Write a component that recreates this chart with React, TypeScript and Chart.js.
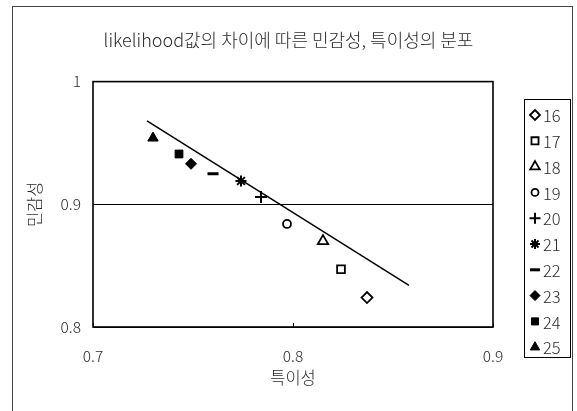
import React, { useEffect, useRef } from "react";
import { Chart, registerables } from "chart.js";
import { drawPoint } from "chart.js/helpers";
Chart.register(...registerables);

const seriesLabels = ["16", "17", "18", "19", "20", "21", "22", "23", "24", "25"];
const specificity = [0.837, 0.824, 0.815, 0.797, 0.784, 0.774, 0.760, 0.749, 0.743, 0.730];
const sensitivity = [0.824, 0.847, 0.870, 0.884, 0.906, 0.919, 0.925, 0.933, 0.941, 0.954];
const markerStyles = ["rectRot", "rect", "triangle", "circle", "cross", "star", "line", "rectRot", "rect", "triangle"];
const markerFilled = [false, false, false, false, false, false, false, true, true, true];
const trendX = [0.727, 0.858];
const trendY = [0.968, 0.834];
const xTicks = [0.7, 0.8, 0.9];
const yTicks = [0.8, 0.9, 1];

const TITLE = "likelihood값의 차이에 따른 민감성, 특이성의 분포";
const X_TITLE = "특이성";
const Y_TITLE = "민감성";
const FONT = '"Noto Sans CJK KR", "Noto Sans", sans-serif';
const TEXT = "#2a2a2a";

function markerRadius(style: string) {
  if (style === "circle") return 4;
  if (style === "cross") return 6;
  if (style === "line") return 5.5;
  if (style === "triangle") return 6;
  if (style === "star") return 5.5;
  return 5.5;
}
function markerBorder(style: string, filled: boolean) {
  if (style === "line") return 3;
  if (style === "star" || style === "cross") return 2;
  if (filled) return 1;
  return 1.8;
}

function drawMarker(ctx: CanvasRenderingContext2D, style: string, r: number, x: number, y: number, bw: number) {
  drawPoint(ctx, { pointStyle: style as any, radius: r, rotation: 0, borderWidth: bw } as any, x, y);
}

const framePlugin = {
  id: "frame",
  beforeDraw(chart: any) {
    const ctx = chart.ctx;
    ctx.save();
    ctx.fillStyle = "#ffffff";
    ctx.fillRect(0, 0, chart.width, chart.height);
    ctx.strokeStyle = "#444";
    ctx.lineWidth = 1;
    ctx.strokeRect(12.5, 6.5, 560, 430);
    ctx.restore();
  },
  beforeDatasetsDraw(chart: any) {
    const { ctx, chartArea } = chart;
    ctx.save();
    ctx.strokeStyle = "#000";
    ctx.lineWidth = 1.6;
    ctx.strokeRect(chartArea.left, chartArea.top, chartArea.right - chartArea.left, chartArea.bottom - chartArea.top);
    const xs = chart.scales.x;
    ctx.lineWidth = 1;
    xTicks.forEach((v) => {
      const px = Math.round(xs.getPixelForValue(v)) + 0.5;
      ctx.beginPath();
      ctx.moveTo(px, chartArea.bottom);
      ctx.lineTo(px, chartArea.bottom - 4);
      ctx.stroke();
    });
    ctx.restore();
  },
  afterDraw(chart: any) {
    const ctx = chart.ctx;
    ctx.save();
    const bx = 524.5, by = 99.5, bw = 46, bh = 258;
    ctx.strokeStyle = "#000";
    ctx.lineWidth = 1;
    ctx.strokeRect(bx, by, bw, bh);
    ctx.font = "300 16.5px " + FONT;
    ctx.textBaseline = "middle";
    ctx.textAlign = "left";
    seriesLabels.forEach((lab, i) => {
      const y = 115 + i * 25.8;
      const style = markerStyles[i];
      const filled = markerFilled[i];
      ctx.save();
      ctx.strokeStyle = "#000";
      ctx.fillStyle = filled ? "#000" : "#fff";
      const w = markerBorder(style, filled);
      ctx.lineWidth = w;
      drawMarker(ctx, style, markerRadius(style) - 0.5, 535, y, w);
      ctx.restore();
      ctx.fillStyle = TEXT;
      ctx.fillText(lab, 543, y + 1);
    });
    ctx.restore();
  },
};

export default function App() {
  const ref = useRef<HTMLCanvasElement>(null);
  useEffect(() => {
    if (!ref.current) return;
    const datasets: any[] = seriesLabels.map((lab, i) => ({
      type: "scatter",
      label: lab,
      data: [{ x: specificity[i], y: sensitivity[i] }],
      pointStyle: markerStyles[i],
      pointRadius: markerRadius(markerStyles[i]),
      pointBorderWidth: markerBorder(markerStyles[i], markerFilled[i]),
      borderColor: "#000",
      backgroundColor: markerFilled[i] ? "#000" : "#fff",
      showLine: false,
    }));
    datasets.push({
      type: "line",
      label: "trend",
      data: trendX.map((x, i) => ({ x, y: trendY[i] })),
      borderColor: "#000",
      borderWidth: 1.5,
      pointRadius: 0,
      fill: false,
      tension: 0,
    });
    const chart = new Chart(ref.current, {
      type: "scatter",
      data: { datasets },
      options: {
        animation: false,
        responsive: false,
        events: [],
        layout: { padding: { left: 0, right: 0, top: 0, bottom: 0 } },
        plugins: {
          legend: { display: false },
          tooltip: { enabled: false },
          title: {
            display: true,
            text: TITLE,
            color: TEXT,
            font: { size: 18, family: FONT, weight: "300" },
            padding: { top: 29, bottom: 31 },
          },
        },
        scales: {
          x: {
            type: "linear",
            min: 0.7,
            max: 0.9,
            afterBuildTicks: (s: any) => {
              s.ticks = xTicks.map((v) => ({ value: v }));
            },
            afterFit: (s: any) => {
              s.height = 84;
            },
            grid: { display: false, drawTicks: false },
            border: { display: false },
            ticks: {
              color: TEXT,
              font: { size: 15.5, family: FONT, weight: "300" },
              padding: 20,
              maxRotation: 0,
              callback: (v: any) => String(Math.round(Number(v) * 10) / 10),
            },
            title: {
              display: true,
              text: X_TITLE,
              color: TEXT,
              font: { size: 16.5, family: FONT, weight: "300" },
              padding: { top: 3, bottom: 23 },
            },
          },
          y: {
            type: "linear",
            min: 0.8,
            max: 1,
            afterBuildTicks: (s: any) => {
              s.ticks = yTicks.map((v) => ({ value: v }));
            },
            afterFit: (s: any) => {
              s.width = 93;
            },
            grid: { display: true, color: "#000", lineWidth: 1, drawTicks: false },
            border: { display: false },
            ticks: {
              color: TEXT,
              font: { size: 15.5, family: FONT, weight: "300" },
              padding: 12,
              callback: (v: any) => String(Math.round(Number(v) * 10) / 10),
            },
            title: {
              display: true,
              text: Y_TITLE,
              color: TEXT,
              font: { size: 16.5, family: FONT, weight: "300" },
              padding: { top: 25, bottom: 10 },
            },
          },
          yRightSpace: {
            type: "linear",
            position: "right",
            min: 0,
            max: 1,
            display: true,
            afterFit: (s: any) => {
              s.width = 84;
            },
            grid: { display: false, drawTicks: false },
            border: { display: false },
            ticks: { display: false },
          },
        },
      } as any,
      plugins: [framePlugin],
    });
    return () => chart.destroy();
  }, []);
  return (
    <div style={{ position: "absolute", left: 0, top: 0, width: 577, height: 411 }}>
      <canvas ref={ref} width={577} height={411} style={{ width: 577, height: 411 }} />
    </div>
  );
}
